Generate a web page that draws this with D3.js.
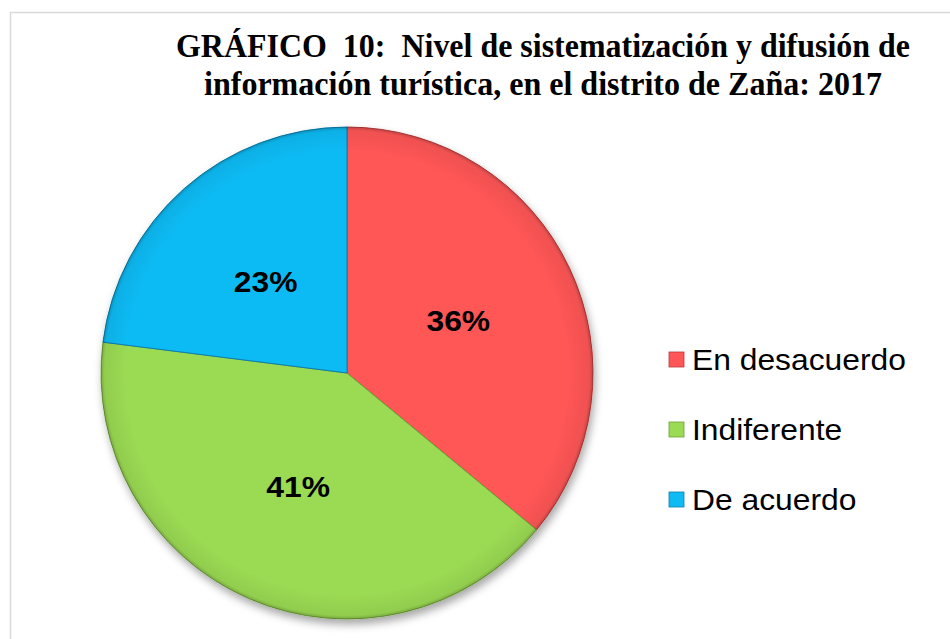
<!DOCTYPE html>
<html>
<head>
<meta charset="utf-8">
<script src="https://cdn.jsdelivr.net/npm/d3@7"></script>
<style>
  body { margin: 0; background: #fff; }
  text { white-space: pre; }
</style>
</head>
<body>
<div id="chart"></div>
<script>
// data
var categories = ['En desacuerdo', 'Indiferente', 'De acuerdo'];
var values = [36, 41, 23];
var colors = ['#FF5757', '#9BDA53', '#10BBF4'];
var edges = ['#B83A3A', '#6E9E38', '#0A7FAD'];
var title_lines = ['GRÁFICO  10:  Nivel de sistematización y difusión de',
                   'información turística, en el distrito de Zaña: 2017'];

var width = 950, height = 639;
var cx = 347, cy = 373, radius = 246;

var svg = d3.select('#chart').append('svg')
    .attr('width', width).attr('height', height);

var defs = svg.append('defs');

// shadow under the pie
var shadow = defs.append('filter').attr('id', 'shadow')
    .attr('x', '-10%').attr('y', '-10%').attr('width', '120%').attr('height', '125%');
shadow.append('feDropShadow')
    .attr('dx', 2).attr('dy', 5).attr('stdDeviation', 4)
    .attr('flood-color', '#000').attr('flood-opacity', 0.35);

// soft darkening at the rim, like the bevel in the original
var rim = defs.append('radialGradient').attr('id', 'rim');
rim.append('stop').attr('offset', '0.9').attr('stop-color', '#000').attr('stop-opacity', 0);
rim.append('stop').attr('offset', '0.985').attr('stop-color', '#000').attr('stop-opacity', 0.06);
rim.append('stop').attr('offset', '1').attr('stop-color', '#000').attr('stop-opacity', 0.22);

// outer frame of the chart area (runs past the right and bottom edge)
svg.append('rect')
    .attr('x', 10.5).attr('y', 12.5)
    .attr('width', 960).attr('height', 660)
    .attr('fill', 'none').attr('stroke', '#D9D9D9').attr('stroke-width', 1.5);

// title
svg.append('g').selectAll('text')
    .data(title_lines).enter().append('text')
    .attr('x', 543).attr('y', function(d,i){ return 57 + i * 38 })
    .attr('text-anchor', 'middle')
    .attr('font-family', '"Liberation Serif", "Times New Roman", serif')
    .attr('font-weight', 'bold').attr('font-size', '33px')
    .attr('textLength', function(d,i){ return i == 0 ? 734 : 678 })
    .attr('lengthAdjust', 'spacingAndGlyphs')
    .attr('fill', '#000')
    .text(function(d) { return d; });

// pie
var pie = d3.pie().sort(null).value(function(d) { return d; });
var arc = d3.arc().innerRadius(0).outerRadius(radius);
var label_arc = d3.arc().innerRadius(radius * 0.5).outerRadius(radius * 0.5);

var pie_group = svg.append('g')
    .attr('transform', 'translate(' + cx + ',' + cy + ')');

pie_group.append('g').attr('filter', 'url(#shadow)')
    .selectAll('path')
    .data(pie(values)).enter().append('path')
    .attr('d', arc)
    .attr('fill', function(d,i){ return colors[i] })
    .attr('stroke', function(d,i){ return edges[i] })
    .attr('stroke-width', 1)
    .attr('stroke-linejoin', 'round');

pie_group.append('circle')
    .attr('r', radius).attr('fill', 'url(#rim)');

// percentage labels
pie_group.selectAll('text.pct')
    .data(pie(values)).enter().append('text')
    .attr('class', 'pct')
    .attr('transform', function(d) {
        return 'translate(' + label_arc.centroid(d) + ') scale(1.06,1)';
    })
    .attr('text-anchor', 'middle').attr('dy', '0.36em')
    .attr('font-family', '"Liberation Sans", Arial, sans-serif')
    .attr('font-weight', 'bold').attr('font-size', '30px')
    .attr('fill', '#000')
    .text(function(d) { return d.data + '%'; });

// legend
var legend = svg.append('g').selectAll('g')
    .data(categories).enter().append('g')
    .attr('transform', function(d,i){ return 'translate(669,' + (352 + i * 70) + ')' });

legend.append('rect')
    .attr('width', 15).attr('height', 15)
    .attr('fill', function(d,i){ return colors[i] })
    .attr('stroke', function(d,i){ return edges[i] }).attr('stroke-width', 0.8);

legend.append('text')
    .attr('transform', 'translate(23,18) scale(1.06,1)')
    .attr('font-family', '"Liberation Sans", Arial, sans-serif')
    .attr('font-size', '30px')
    .attr('fill', '#000')
    .text(function(d) { return d; });
</script>
</body>
</html>
